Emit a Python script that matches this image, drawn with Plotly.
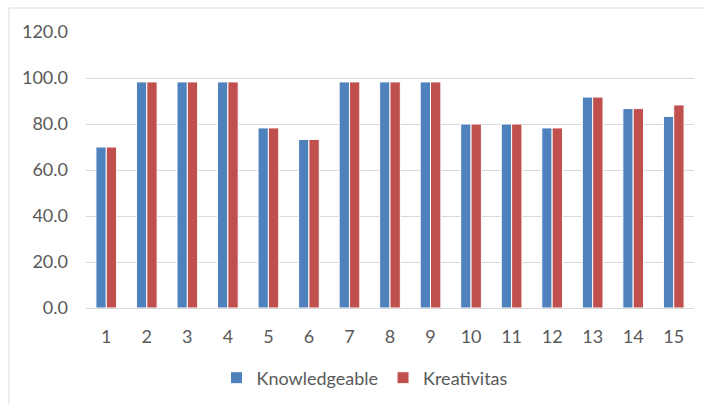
import plotly.graph_objects as go

categories = [str(i) for i in range(1, 16)]
knowledgeable = [70.0, 98.3, 98.3, 98.3, 78.3, 73.3, 98.3, 98.3, 98.3, 80.0, 80.0, 78.3, 91.7, 86.7, 83.3]
kreativitas = [70.0, 98.3, 98.3, 98.3, 78.3, 73.3, 98.3, 98.3, 98.3, 80.0, 80.0, 78.3, 91.7, 86.7, 88.3]
y_ticks = [0, 20, 40, 60, 80, 100, 120]

FONT = "Lato"
TXT = "#595959"
FS = 18

fig = go.Figure()
fig.add_trace(go.Bar(x=categories, y=knowledgeable, name="Knowledgeable",
                     marker=dict(color="#4F81BD", line=dict(color="white", width=1))))
fig.add_trace(go.Bar(x=categories, y=kreativitas, name="Kreativitas",
                     marker=dict(color="#C0504D", line=dict(color="white", width=1))))

W, H = 705, 404
L, R, T, B = 86, 11, 32, 96
pw, ph = W - L - R, H - T - B

def px_x(p):
    return (p - L) / pw

def px_y(p):
    return (H - B - p) / ph

fig.update_layout(
    width=W, height=H,
    margin=dict(l=L, r=R, t=T, b=B, pad=0, autoexpand=False),
    paper_bgcolor="white", plot_bgcolor="white",
    barmode="group", bargap=0.49, bargroupgap=0.0,
    font=dict(family=FONT, size=FS, color=TXT),
    showlegend=True,
    legend=dict(orientation="h", x=px_x(365), xanchor="center", y=px_y(378), yanchor="middle",
                font=dict(family=FONT, size=FS, color=TXT), itemwidth=30,
                bgcolor="rgba(0,0,0,0)"),
    xaxis=dict(type="category", showgrid=False, showline=True, linecolor="#D9D9D9", linewidth=1,
               ticks="", ticklabelstandoff=12, tickfont=dict(family=FONT, size=FS, color=TXT),
               zeroline=False, automargin=False),
    yaxis=dict(range=[0, 120], tickvals=y_ticks, ticktext=[f"{v:.1f}" for v in y_ticks],
               showgrid=True, gridcolor="#D9D9D9", gridwidth=1, zeroline=False, showline=False,
               ticks="", ticklabelstandoff=17, tickfont=dict(family=FONT, size=FS, color=TXT),
               automargin=False),
    shapes=[dict(type="rect", xref="paper", yref="paper",
                 x0=px_x(9), x1=px_x(712), y0=px_y(412), y1=px_y(8),
                 line=dict(color="#D9D9D9", width=1), fillcolor="rgba(0,0,0,0)", layer="below")],
)

fig.write_html("out.html")
